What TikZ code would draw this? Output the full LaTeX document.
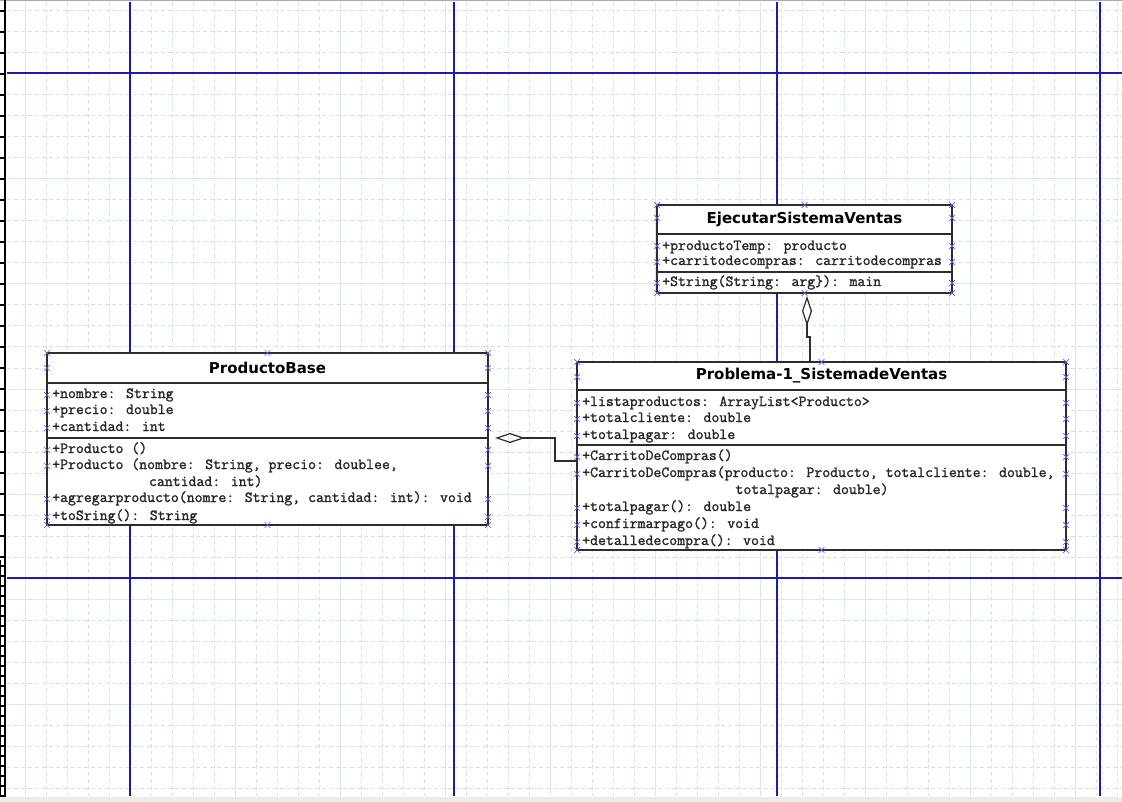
\documentclass[tikz,border=0pt]{standalone}
\usepackage{fontspec}
\newfontfamily\umltitle{DejaVu Sans}
\newfontfamily\umlmono{Latin Modern Mono}[FakeBold=1.4]
\usetikzlibrary{arrows.meta,calc}

\definecolor{gridminor}{RGB}{212,228,228}
\definecolor{gridmajor}{RGB}{218,232,232}
\definecolor{pagebreak}{RGB}{28,28,172}
\definecolor{boxline}{RGB}{45,45,45}
\definecolor{handlecol}{RGB}{95,95,230}
\definecolor{frametop}{RGB}{170,170,170}
\definecolor{framebot}{RGB}{236,236,236}

\tikzset{
  classbox/.style={draw=boxline, line width=1.3pt, fill=white, rectangle,
    inner sep=0pt, outer sep=0pt, anchor=north west},
  classtitle/.style={font=\umltitle\bfseries\fontsize{15pt}{15pt}\selectfont, inner sep=0pt},
  member/.style={font=\umlmono\bfseries\fontsize{15.37pt}{16pt}\selectfont, anchor=west,
    inner sep=0pt, text height=8pt, text depth=2pt, text=black!85},
  separator/.style={draw=boxline, line width=1.3pt},
  aggregation/.style={draw=boxline, line width=1.2pt,
    {Diamond[open,length=30pt,width=10pt]}-},
  hx/.pic={\draw[handlecol, line width=0.7pt] (-2.8,-2.8)--(2.8,2.8) (-2.8,2.8)--(2.8,-2.8);}
}

\begin{document}
\begin{tikzpicture}[x=1pt,y=-1pt]
\useasboundingbox (0,0) rectangle (1122,802);
\fill[white] (0,0) rectangle (1122,802);

% drawing grid: dashed minor lines every 21px, light solid every 105px
\begin{scope}
  \clip (7,2) rectangle (1122,796);
  \foreach \gx in {4,25,...,1122}
    \draw[gridminor, line width=1pt, dash pattern=on 4pt off 3pt] (\gx,2) -- (\gx,796);
  \foreach \gy in {11,32,...,796}
    \draw[gridminor, line width=1pt, dash pattern=on 4pt off 3pt] (7,\gy) -- (1122,\gy);
  \foreach \gx in {25,130,...,1122}
    \draw[gridmajor, line width=1pt] (\gx,2) -- (\gx,796);
  \foreach \gy in {74,179,...,796}
    \draw[gridmajor, line width=1pt] (7,\gy) -- (1122,\gy);
\end{scope}

% page boundaries
\foreach \px in {130,454,777,1100}
  \draw[pagebreak, line width=1.4pt] (\px,2) -- (\px,796);
\foreach \py in {73,578}
  \draw[pagebreak, line width=1.4pt] (7,\py) -- (1122,\py);

% window frame
\fill[frametop] (0,0) rectangle (1122,1.5);
\fill[framebot] (0,796.5) rectangle (1122,802);

% vertical ruler on the left edge
\draw[black, line width=2pt] (5,0) -- (5,797);
\foreach \ry in {11,32,...,560}
  \draw[black, line width=1.2pt] (0,\ry) -- (5,\ry);
\draw[black, line width=1pt] (0.5,560) -- (0.5,797);
\foreach \ry in {566,576,...,796}
  \draw[black, line width=1.2pt] (0,\ry) -- (5,\ry);

% class boxes
\node[classbox, minimum width=441pt, minimum height=172pt] (pb) at (47,353) {};
\node[classbox, minimum width=295pt, minimum height=88pt] (es) at (657,205) {};
\node[classbox, minimum width=489pt, minimum height=188pt] (sv) at (577,362) {};

% aggregation connectors
\coordinate (pbA) at ($(pb.north east)+(7,85)$);
\coordinate (pbB) at (555,438);
\coordinate (pbC) at (555,461);
\coordinate (svA) at (sv.west |- pbC);
\draw[aggregation] (pbA) -- (pbB) -- (pbC) -- (svA);

\coordinate (esA) at ($(es.south)+(2.5,3)$);
\coordinate (esB) at (807,337);
\coordinate (esC) at (810,337);
\coordinate (svB) at (sv.north -| esC);
\draw[aggregation] (esA) -- (esB) -- (esC) -- (svB);

% compartment separators
\draw[separator] (pb.west |- 0,383) -- (pb.east |- 0,383);
\draw[separator] (pb.west |- 0,438) -- (pb.east |- 0,438);
\draw[separator] (es.west |- 0,234) -- (es.east |- 0,234);
\draw[separator] (es.west |- 0,272) -- (es.east |- 0,272);
\draw[separator] (sv.west |- 0,390) -- (sv.east |- 0,390);
\draw[separator] (sv.west |- 0,445) -- (sv.east |- 0,445);

% class names
\node[classtitle] (pbt) at ($(pb.north)+(0,15)$) {ProductoBase};
\node[classtitle] (est) at ($(es.north)+(0,14.5)$) {EjecutarSistemaVentas};
\node[classtitle] (svt) at ($(sv.north)+(0,14)$) {Problema-1\_SistemadeVentas};

% ProductoBase members
\node[member] (pb1) at (52,395) {+nombre: String};
\node[member] (pb2) at (52,411) {+precio: double};
\node[member] (pb3) at (52,428) {+cantidad: int};
\node[member] (pb4) at (52,450) {+Producto ()};
\node[member] (pb5) at (52,466) {+Producto (nombre: String, precio: doublee,};
\node[member] (pb6) at (148.8,483) {cantidad: int)};
\node[member] (pb7) at (52,499) {+agregarproducto(nomre: String, cantidad: int): void};
\node[member] (pb8) at (52,517) {+toSring(): String};

% EjecutarSistemaVentas members
\node[member] (es1) at (662,247) {+productoTemp: producto};
\node[member] (es2) at (662,262) {+carritodecompras: carritodecompras};
\node[member] (es3) at (662,283) {+String(String: arg\}): main};

% Problema-1_SistemadeVentas members
\node[member] (sv1) at (582,403) {+listaproductos: ArrayList<Producto>};
\node[member] (sv2) at (582,419) {+totalcliente: double};
\node[member] (sv3) at (582,436) {+totalpagar: double};
\node[member] (sv4) at (582,457) {+CarritoDeCompras()};
\node[member] (sv5) at (582,474) {+CarritoDeCompras(producto: Producto, totalcliente: double,};
\node[member] (sv6) at (735.3,491) {totalpagar: double)};
\node[member] (sv7) at (582,508) {+totalpagar(): double};
\node[member] (sv8) at (582,525) {+confirmarpago(): void};
\node[member] (sv9) at (582,542) {+detalledecompra(): void};

% connection handles
\foreach \hy in {353,368,395,411,428,450,466,499,517,525} {
  \pic at (47,\hy) {hx};
  \pic at (488,\hy) {hx};
}
\pic at (267.5,353) {hx};
\pic at (267.5,525) {hx};
\foreach \hy in {205,218,246,262,283,293} {
  \pic at (657,\hy) {hx};
  \pic at (952,\hy) {hx};
}
\pic at (804.5,205) {hx};
\pic at (804.5,293) {hx};
\foreach \hy in {362,377,403,419,436,457,474,508,525,542,550} {
  \pic at (577,\hy) {hx};
  \pic at (1066,\hy) {hx};
}
\pic at (821.5,362) {hx};
\pic at (821.5,550) {hx};
\end{tikzpicture}
\end{document}
